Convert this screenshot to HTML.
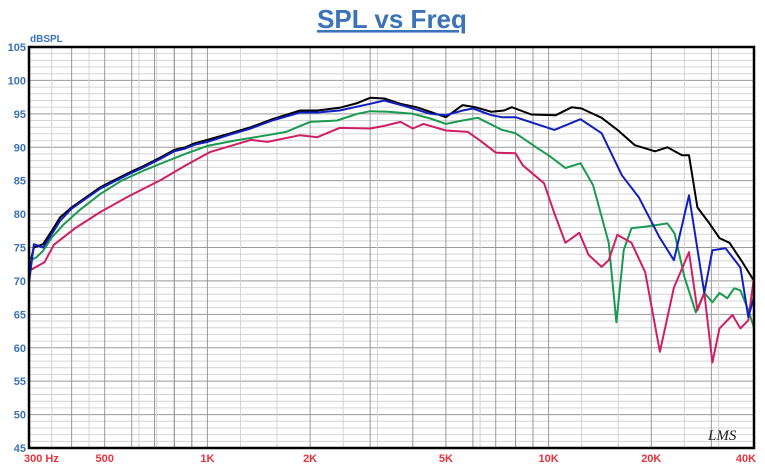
<!DOCTYPE html>
<html><head><meta charset="utf-8"><style>
body{margin:0;background:#fff;font-family:"Liberation Sans",Arial,sans-serif}
svg{display:block}
</style></head><body>
<svg id="c" width="765" height="473">
<text x="392" y="28" text-anchor="middle" font-size="26" font-weight="bold" fill="#3b73b9" text-decoration="underline">SPL vs Freq</text>
<text x="30" y="42" font-size="10" font-weight="bold" fill="#3b73b9">dBSPL</text>
<g id="grid"></g><g id="series"></g><g id="labels"></g>
<rect x="29" y="47" width="725" height="401" fill="none" stroke="#000" stroke-width="2.5"/>
<text x="708" y="440" font-size="15" font-style="italic" font-family="Liberation Serif,serif" fill="#222">LMS</text>
</svg>
<script>
const yTicks=[45,50,55,60,65,70,75,80,85,90,95,100,105];
const xTickVals=[300,500,1000,2000,5000,10000,20000,40000];
const xTickLabels=["300  Hz","500","1K","2K","5K","10K","20K","40K"];
const black=[[300,72],[310,75],[330,75.5],[350,77.5],[370,79.5],[400,81],[440,82.5],[485,84],[530,85],[590,86.2],[650,87.2],[730,88.5],[800,89.6],[860,90],[920,90.6],[1000,91.1],[1150,92],[1340,93],[1550,94.2],[1870,95.5],[2100,95.5],[2440,95.9],[2750,96.6],[3000,97.4],[3300,97.3],[3680,96.5],[4100,96],[4500,95.3],[5000,94.5],[5600,96.3],[6100,96],[6800,95.3],[7400,95.5],[7800,96],[8900,94.9],[10500,94.8],[11700,96],[12500,95.8],[14300,94.4],[16000,92.5],[17900,90.3],[20500,89.4],[22300,90],[24600,88.8],[25800,88.8],[27300,81],[29600,78.6],[31700,76.4],[33900,75.7],[37000,72.8],[40000,70]];
const blue=[[300,69.7],[310,75.5],[330,75],[350,77],[370,79],[400,80.8],[440,82.3],[485,83.8],[530,84.8],[590,86],[650,87],[730,88.3],[800,89.4],[860,89.8],[920,90.4],[1000,90.8],[1150,91.8],[1340,92.8],[1550,94],[1870,95.2],[2100,95.2],[2440,95.5],[3000,96.5],[3300,97],[3700,96.3],[4500,95],[5000,94.8],[5600,95.5],[6000,95.8],[6800,94.8],[7300,94.5],[8000,94.5],[10400,92.6],[12400,94.2],[14300,92.1],[16400,85.8],[18400,82.5],[21100,76.6],[23300,73.1],[25800,82.8],[28600,68.2],[30200,74.6],[33000,74.9],[36500,72],[38500,64.6],[40000,67.6]];
const green=[[300,73],[315,73.5],[330,74.5],[350,76.5],[380,78.5],[420,80.5],[485,83],[560,85],[650,86.5],[750,87.8],[860,89],[1000,90.2],[1200,91],[1500,91.8],[1700,92.3],[2000,93.8],[2400,94],[2750,95],[3000,95.4],[3400,95.3],[4000,95],[4500,94.3],[5000,93.5],[5600,94],[6200,94.4],[7300,92.6],[8000,92.1],[9200,90],[10000,88.8],[11200,86.9],[12400,87.6],[13500,84.3],[15000,75.7],[15800,63.8],[16600,74.6],[17500,77.9],[19200,78.1],[22300,78.6],[23400,77.1],[25000,70.6],[27000,65.3],[28600,68.2],[30200,66.8],[31700,68.2],[33400,67.4],[35000,68.9],[36500,68.6],[38500,65.6],[40000,63]];
const red=[[300,71.5],[333,72.8],[355,75.4],[410,77.9],[485,80.3],[590,82.7],[730,85.1],[865,87.3],[1020,89.3],[1340,91.1],[1500,90.8],[1870,91.8],[2100,91.5],[2440,92.9],[3000,92.8],[3300,93.2],[3680,93.8],[4000,92.8],[4300,93.5],[5000,92.5],[5800,92.3],[6300,91],[7000,89.2],[8000,89.1],[8400,87.3],[9700,84.6],[10400,80.1],[11200,75.7],[12300,77.2],[13100,73.9],[14300,72.1],[15000,73.1],[15900,76.9],[17500,75.7],[19200,71.3],[21200,59.4],[23300,69],[25800,74.3],[27300,65.6],[28600,68.2],[30200,57.8],[31700,62.9],[34600,64.9],[36500,62.9],[38500,64.1],[40000,70.6]];

const NS="http://www.w3.org/2000/svg";
const X0=29,X1=754,Y0=47,Y1=448;
function xs(f){return X0+(Math.log10(f)-Math.log10(300))/(Math.log10(40000)-Math.log10(300))*(X1-X0);}
function ys(v){return Y1-(v-45)/(105-45)*(Y1-Y0);}
function mk(t,a,p){const e=document.createElementNS(NS,t);for(const k in a)e.setAttribute(k,a[k]);p.appendChild(e);return e;}
const grid=document.getElementById('grid'),lab=document.getElementById('labels'),ser=document.getElementById('series');
for(let v=45;v<=105;v++){
  const l=mk('line',{x1:X0,x2:X1,y1:ys(v),y2:ys(v),stroke:v%5==0?'#999':'#d4d4d4','stroke-width':1},grid);
  
  
}
const vf=[];
for(let f=300;f<1000;f+=100)vf.push(f);
for(let f=1000;f<10000;f+=1000)vf.push(f);
for(let f=10000;f<=40000;f+=10000)vf.push(f);
[350,450,630,710,800,900,1250,1600,2500,3150,6300,8000,12500,16000,25000,31500].forEach(f=>vf.push(f));
vf.forEach(f=>{
  const major=[300,400,500,600,700,800,900,1000,2000,3000,4000,5000,6000,7000,8000,9000,10000,20000,30000,40000].includes(f);
  const l=mk('line',{x1:xs(f),x2:xs(f),y1:Y0,y2:Y1,stroke:major?'#999':'#d4d4d4','stroke-width':1},grid);
  
  
});
yTicks.forEach(v=>{
  const t=mk('text',{x:26,y:ys(v)+4,'text-anchor':'end','font-size':11,'font-weight':'bold',fill:'#3b73b9'},lab);
  t.textContent=v;
  
  
});
xTickVals.forEach((f,i)=>{
  const t=mk('text',{x:xs(f)+(i==0?-5:i==xTickVals.length-1?-8:0),y:462,'text-anchor':i==0?'start':'middle','font-size':11,'font-weight':'bold',fill:'#e8323c','xml:space':'preserve'},lab);
  t.textContent=xTickLabels[i];
  
  
});
[[black,'#000','series-black'],[green,'#1a9a50','series-green'],[red,'#d02064','series-red'],[blue,'#1020c0','series-blue']].forEach(([d,c,n])=>{
  const p=mk('polyline',{points:d.map(q=>xs(q[0]).toFixed(1)+','+ys(q[1]).toFixed(1)).join(' '),fill:'none',stroke:c,'stroke-width':2,'stroke-linejoin':'round'},ser);
  
  
});
</script>
</body></html>
